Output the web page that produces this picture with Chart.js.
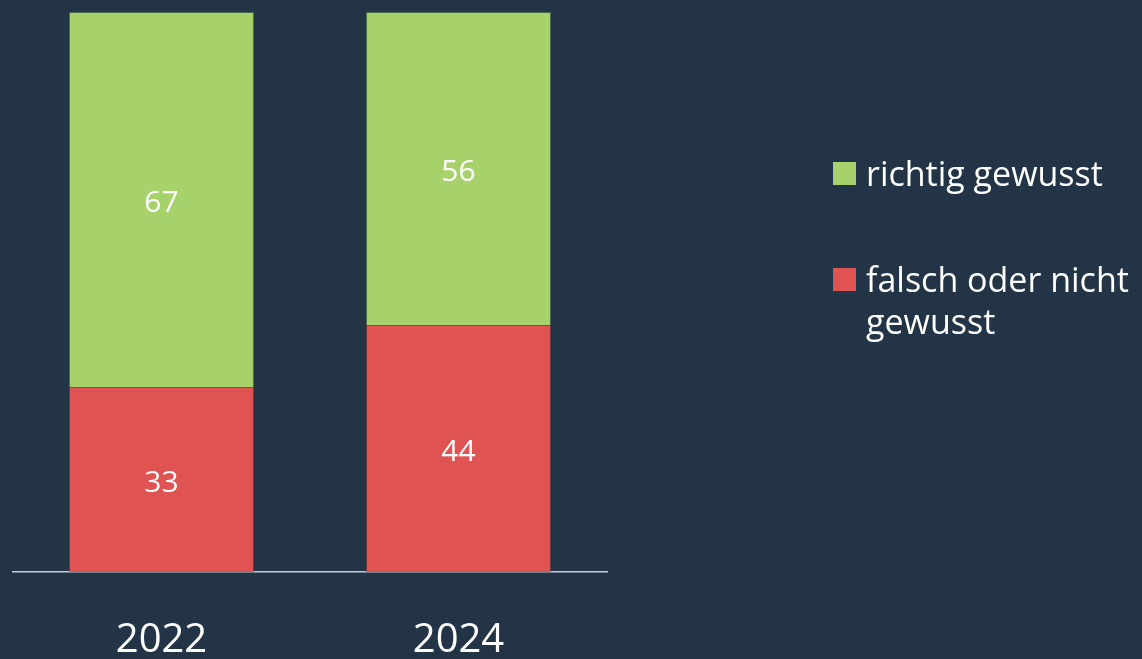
<!DOCTYPE html>
<html lang="de">
<head>
  <meta charset="utf-8">
  <title>Wissen 2022 / 2024</title>
  <style>
    html, body { margin: 0; padding: 0; background: #223445; overflow: hidden; }
    canvas { display: block; }
  </style>
</head>
<body>
  <canvas id="myChart" width="1142" height="659"></canvas>
  <script src="https://cdn.jsdelivr.net/npm/chart.js"></script>
  <script>
    const years = ['2022', '2024']
    const richtig = [67, 56]
    const falsch = [33, 44]
    const legendLines = [['richtig gewusst'], ['falsch oder nicht', 'gewusst']]

    const green = '#a6d16b'
    const red = '#e05353'
    const font = '"Open Sans", "Noto Sans", sans-serif'

    // zahlen in die mitte der segmente
    const valueLabels = {
      id: 'valueLabels',
      afterDatasetsDraw(chart) {
        const ctx = chart.ctx
        ctx.save()
        ctx.fillStyle = '#ffffff'
        ctx.font = '30px ' + font
        ctx.textAlign = 'center'
        ctx.textBaseline = 'middle'
        chart.data.datasets.forEach((ds, i) => {
          chart.getDatasetMeta(i).data.forEach((bar, j) => {
            ctx.fillText(ds.data[j], bar.x, (bar.y + bar.base) / 2 + 4)
          })
        })
        ctx.restore()
      }
    }

    // legende rechts, mit zeilenumbruch
    const sideLegend = {
      id: 'sideLegend',
      afterDraw(chart) {
        const ctx = chart.ctx
        const order = [1, 0]
        const tops = [162, 268]
        ctx.save()
        ctx.font = '34px ' + font
        ctx.textBaseline = 'alphabetic'
        ctx.textAlign = 'left'
        order.forEach((di, k) => {
          const ds = chart.data.datasets[di]
          ctx.fillStyle = ds.backgroundColor
          ctx.fillRect(833, tops[k], 23, 23)
          ctx.fillStyle = '#ffffff'
          legendLines[k].forEach((line, l) => {
            ctx.fillText(line, 866, tops[k] + 24 + l * 42)
          })
        })
        ctx.restore()
      }
    }

    const ctx = document.getElementById('myChart').getContext('2d')
    const myChart = new Chart(ctx, {
      type: 'bar',
      data: {
        labels: years,
        datasets: [
          {
            label: 'falsch oder nicht gewusst',
            data: falsch,
            backgroundColor: red,
            borderColor: 'rgba(150,60,60,0.6)',
            borderWidth: { left: 1, right: 1, top: 0, bottom: 0 },
            borderSkipped: false,
            barPercentage: 0.623,
            categoryPercentage: 1
          },
          {
            label: 'richtig gewusst',
            data: richtig,
            backgroundColor: green,
            borderColor: 'rgba(90,130,80,0.7)',
            borderWidth: { left: 1, right: 1, top: 1, bottom: 0 },
            borderSkipped: false,
            barPercentage: 0.623,
            categoryPercentage: 1
          }
        ]
      },
      options: {
        responsive: false,
        animation: false,
        devicePixelRatio: 1,
        layout: { padding: { left: 13, top: 12, right: 535, bottom: 0 } },
        plugins: {
          legend: { display: false },
          tooltip: { enabled: false }
        },
        scales: {
          x: {
            stacked: true,
            grid: { display: false },
            border: { display: true, color: '#c5ccd3', width: 1.5 },
            ticks: {
              color: '#ffffff',
              padding: 40,
              font: { family: font, size: 40, lineHeight: 1.05 }
            },
            afterFit(scale) { scale.height = 87 }
          },
          y: {
            stacked: true,
            display: false,
            min: 0,
            max: 100
          }
        }
      },
      plugins: [valueLabels, sideLegend]
    })
  </script>
</body>
</html>
